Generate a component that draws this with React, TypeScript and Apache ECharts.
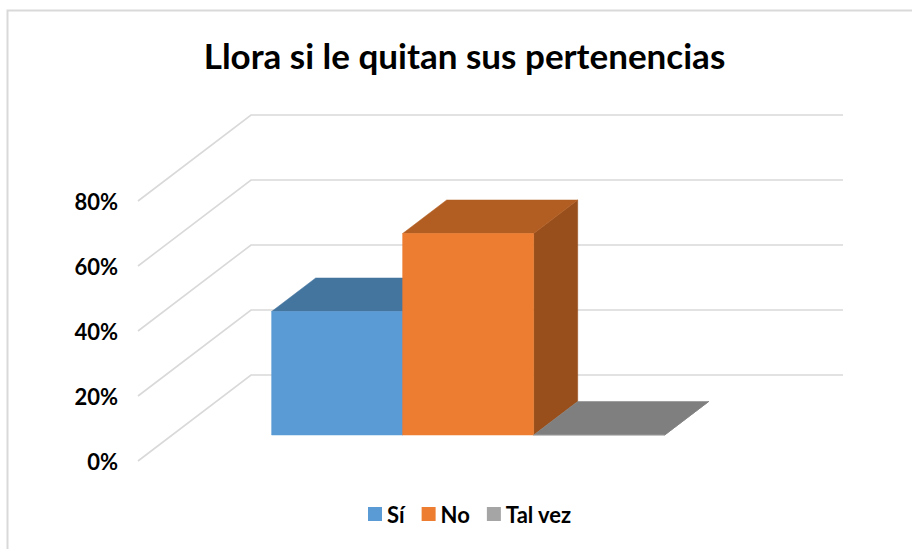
import React, { useEffect, useRef } from "react";
import * as echarts from "echarts";

const titleText = "Llora si le quitan sus pertenencias";
const categories = [""];
const seriesNames = ["Sí", "No", "Tal vez"];
const seriesValues = [38, 62, 0];
const yTicks = [0, 20, 40, 60, 80];
const frontColors = ["#5B9BD5", "#ED7D31", "#A5A5A5"];
const topColors = ["#44759F", "#B25E22", "#7F7F7F"];
const sideColors = ["#3A6590", "#994F1B", "#6E6E6E"];

const FONT = "Lato, Carlito, 'Open Sans', sans-serif";
const DEPTH_X = 113;
const DEPTH_Y = 86;
const BAR_NEAR = 0.302;
const BAR_FAR = 0.692;
const GAP_RATIO = 99.5 / 592;
const BAR_RATIO = 131 / 592;

function renderWall(params: any, api: any) {
  const v = api.value(0);
  const p = api.coord([0, v]);
  const bandW = api.size([1, 0])[0];
  const x0 = p[0] - bandW / 2;
  return {
    type: "polyline",
    silent: true,
    shape: {
      points: [
        [x0, p[1]],
        [x0 + DEPTH_X, p[1] - DEPTH_Y],
        [x0 + bandW + DEPTH_X, p[1] - DEPTH_Y],
      ],
    },
    style: { stroke: "#D9D9D9", lineWidth: 1.6, fill: "none" },
  };
}

function makeBarRenderer(index: number) {
  return (params: any, api: any) => {
    const base = api.coord([0, 0]);
    const top = api.coord([0, api.value(1)]);
    const bandW = api.size([1, 0])[0];
    const bandX = base[0] - bandW / 2;
    const barW = bandW * BAR_RATIO;
    const x1 = bandX + bandW * GAP_RATIO + index * barW + DEPTH_X * BAR_NEAR;
    const x2 = x1 + barW;
    const yB = base[1] - DEPTH_Y * BAR_NEAR;
    const yT = top[1] - DEPTH_Y * BAR_NEAR;
    const dx = DEPTH_X * (BAR_FAR - BAR_NEAR);
    const dy = DEPTH_Y * (BAR_FAR - BAR_NEAR);
    const poly = (points: number[][], color: string) => ({
      type: "polygon",
      shape: { points },
      style: { fill: color, stroke: color, lineWidth: 0.5 },
    });
    return {
      type: "group",
      children: [
        poly([[x2, yB], [x2 + dx, yB - dy], [x2 + dx, yT - dy], [x2, yT]], sideColors[index]),
        poly([[x1, yT], [x1 + dx, yT - dy], [x2 + dx, yT - dy], [x2, yT]], topColors[index]),
        poly([[x1, yB], [x2, yB], [x2, yT], [x1, yT]], frontColors[index]),
      ],
    };
  };
}

export default function App() {
  const ref = useRef<HTMLDivElement>(null);
  useEffect(() => {
    document.body.style.margin = "0";
    const chart = echarts.init(ref.current!, null, { renderer: "svg" });
    chart.setOption({
      animation: false,
      backgroundColor: "#FFFFFF",
      title: {
        text: titleText,
        left: 459.5,
        textAlign: "center",
        top: 32,
        textStyle: { fontFamily: FONT, fontSize: 35, fontWeight: "bold", color: "#000000" },
      },
      graphic: [
        {
          type: "rect",
          silent: true,
          shape: { x: 7.5, y: 10.5, width: 930, height: 570 },
          style: { fill: "none", stroke: "#D9D9D9", lineWidth: 2 },
        },
      ],
      legend: {
        data: seriesNames,
        left: 363,
        top: 498,
        icon: "rect",
        itemWidth: 14,
        itemHeight: 14,
        itemGap: 17,
        textStyle: { fontFamily: FONT, fontSize: 22, fontWeight: "bold", color: "#000000" },
      },
      grid: { left: 138, top: 201, width: 592, height: 260 },
      xAxis: {
        type: "category",
        data: categories,
        axisLine: { show: false },
        axisTick: { show: false },
        axisLabel: { show: false },
      },
      yAxis: {
        type: "value",
        min: 0,
        max: 80,
        interval: 20,
        axisLine: { show: false },
        axisTick: { show: false },
        splitLine: { show: false },
        axisLabel: {
          margin: 20,
          formatter: (v: number) => `${v}%`,
          fontFamily: FONT,
          fontSize: 22,
          fontWeight: "bold",
          color: "#000000",
          padding: [0, 0, 2, 0],
        },
      },
      series: [
        {
          type: "custom",
          name: "walls",
          silent: true,
          z: 1,
          clip: false,
          encode: { y: 0 },
          data: yTicks.map((v) => [v]),
          renderItem: renderWall,
        },
        ...seriesNames.map((name, i) => ({
          type: "custom",
          name,
          z: 2 + i,
          clip: false,
          itemStyle: { color: frontColors[i] },
          encode: { x: 0, y: 1 },
          data: [[0, seriesValues[i]]],
          renderItem: makeBarRenderer(i),
        })),
      ],
    });
    return () => chart.dispose();
  }, []);
  return <div ref={ref} style={{ position: "fixed", left: 0, top: 0, width: 912, height: 549 }} />;
}
